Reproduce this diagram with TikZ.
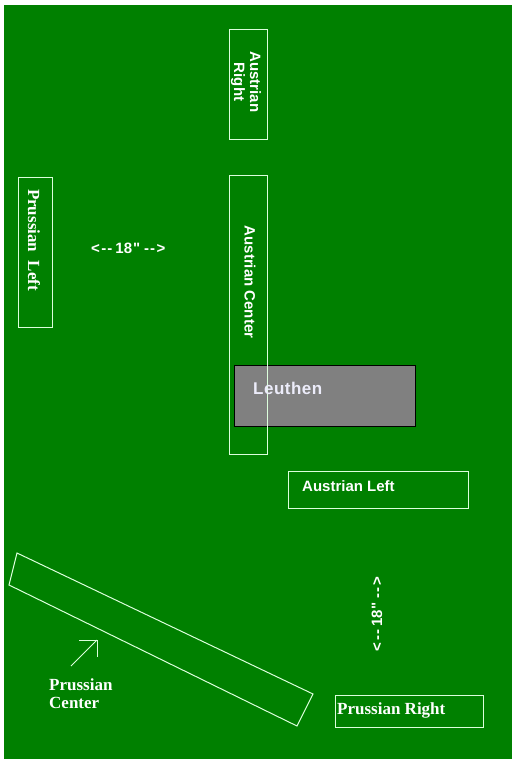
\documentclass[tikz,border=0pt]{standalone}
\usepackage{fontspec}
\setmainfont{Liberation Serif}
\setsansfont{Liberation Sans}
\newfontfamily\distfont{Liberation Sans}
\definecolor{field}{RGB}{0,128,0}
\definecolor{lineW}{RGB}{220,255,220}
\definecolor{townT}{RGB}{236,236,250}
\newcommand{\distlab}{{\distfont\bfseries <\kern1.5pt-\kern1pt-\kern3pt 18\kern1pt"\kern4pt-\kern1pt-\kern1.5pt>}}
\begin{document}
\begin{tikzpicture}[x=1pt,y=-1pt,
  unit/.style={draw=lineW,line width=1pt},
  sanslab/.style={text=white,font=\sffamily\bfseries\fontsize{15}{16}\selectfont,inner sep=0pt},
  seriflab/.style={text=white,font=\rmfamily\bfseries\fontsize{17}{19}\selectfont,inner sep=0pt}]
\useasboundingbox (0,0) rectangle (512,768);
\fill[white] (0,0) rectangle (512,768);
\fill[field] (4,5) rectangle (512,759);
% Austrian Right
\draw[unit] (229,30) rectangle (267,139);
\node[sanslab,rotate=-90,align=center] (ar) at (246,82) {Austrian\\Right};
% Prussian Left
\draw[unit] (18,177) rectangle (52,327);
\node[seriflab,rotate=-90] (pl) at (34,240) {Prussian\ \ Left};
% distance label
\node[sanslab,anchor=west] (d1) at (91,248) {\distlab};
% Leuthen
\draw[fill=gray,draw=black,line width=1pt] (234,365) rectangle (415,426);
% Austrian Center
\draw[unit] (229,175) rectangle (267,454);
\node[sanslab,rotate=-90] (ac) at (250,282) {Austrian Center};
\node[text=townT,font=\sffamily\bfseries\fontsize{17}{19}\selectfont,inner sep=0pt,anchor=base west] (le) at (253,394) {L\kern0.5pt e\kern0.5pt u\kern0.5pt t\kern0.5pt h\kern0.5pt e\kern0.5pt n};
% Austrian Left
\draw[unit] (288,471) rectangle (468,508);
\node[sanslab,anchor=west] (al) at (302,486) {Austrian Left};
% Prussian Center
\draw[unit] (17,553) -- (313,694) -- (297,726) -- (9,585) -- cycle;
\coordinate (atail) at (71,666);
\coordinate (ahead) at (97,640);
\draw[draw=lineW,line width=1pt] (atail) -- (ahead);
\draw[draw=lineW,line width=1pt] (79,640) -- (ahead) -- (97,657);
\node[seriflab,align=left,anchor=north west] (pc) at (49,678) {Prussian\\[-1pt]Center};
% vertical distance
\node[sanslab,rotate=90] (d2) at (377,614) {\distlab};
% Prussian Right
\draw[unit] (335,695) rectangle (483,727);
\node[seriflab,anchor=west] (pr) at (337,710) {Prussian Right};
\end{tikzpicture}
\end{document}
